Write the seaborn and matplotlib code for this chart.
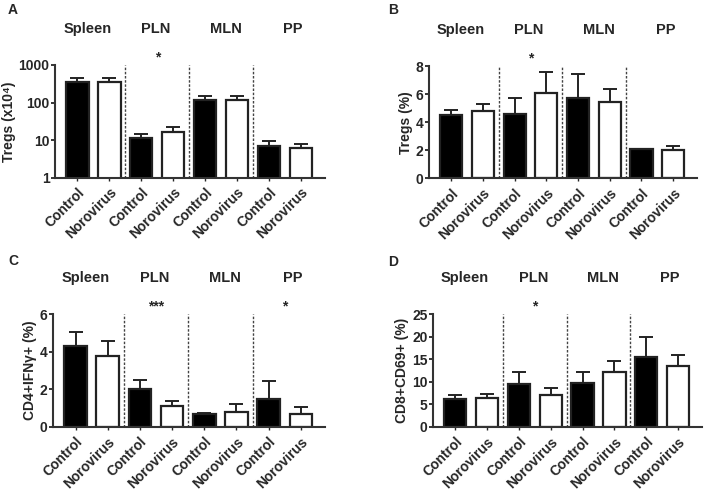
import matplotlib
matplotlib.use("Agg")
import matplotlib.pyplot as plt
import matplotlib.ticker as mticker
import seaborn as sns
import pandas as pd
import numpy as np

# data (bar = mean, err = top of the error bar)
tissues = ["Spleen", "PLN", "MLN", "PP"]
groups = ["Control", "Norovirus"]

tregs_num = [350, 345, 11.2, 16.1, 116, 119, 7.0, 6.2]
tregs_num_err = [440, 448, 14.3, 21.9, 149, 146, 9.5, 7.9]

tregs_pct = [4.51, 4.80, 4.58, 6.10, 5.70, 5.42, 2.07, 2.00]
tregs_pct_err = [4.87, 5.27, 5.75, 7.60, 7.41, 6.39, 2.12, 2.28]

cd4_ifng = [4.30, 3.75, 2.00, 1.09, 0.71, 0.80, 1.50, 0.71]
cd4_ifng_err = [5.05, 4.54, 2.50, 1.39, 0.74, 1.21, 2.43, 1.04]

cd8_cd69 = [6.1, 6.47, 9.56, 7.06, 9.63, 12.2, 15.4, 13.6]
cd8_cd69_err = [7.13, 7.35, 12.2, 8.6, 12.1, 14.5, 19.85, 15.9]

# significance marks: (tissue index, stars)
stars_a = [(1, "*")]
stars_b = [(1, "*")]
stars_c = [(1, "***"), (3, "*")]
stars_d = [(1, "*")]

sns.set_style("ticks")
plt.rcParams["font.family"] = ["Liberation Sans", "DejaVu Sans"]
plt.rcParams["font.weight"] = "bold"
plt.rcParams["axes.labelweight"] = "bold"

fig = plt.figure(figsize=(7.08, 4.91), dpi=100)

# axes boxes in pixels: left, right, top, bottom ; letter position
boxes = {
    "A": ([55, 325, 65, 177.7], (8, 10)),
    "B": ([429, 697, 66, 178.3], (388, 10)),
    "C": ([53, 325, 314, 427], (8, 261)),
    "D": ([433, 702, 314, 427], (388, 262)),
}


def make_ax(key):
    (l, r, t, b), (lx, ly) = boxes[key]
    fig.text(lx / 708, 1 - ly / 491, key, fontsize=10, fontweight="bold",
             ha="left", va="center")
    return fig.add_axes([l / 708, 1 - b / 491, (r - l) / 708, (b - t) / 491])


def panel(ax, vals, errs, ylabel, ylim, yticks, stars, log=False):
    keys = [t + " " + g for t in tissues for g in groups]
    df = pd.DataFrame({"cat": keys, "val": vals})
    colors = {k: ("black" if k.endswith("Control") else "white") for k in keys}
    sns.barplot(data=df, x="cat", y="val", hue="cat", palette=colors,
                legend=False, width=0.7, edgecolor="#222222", linewidth=1.6,
                ax=ax, errorbar=None)
    if log:
        ax.set_yscale("log")
    up = np.array(errs) - np.array(vals)
    ax.errorbar(np.arange(len(vals)), vals, yerr=[np.zeros(len(vals)), up],
                fmt="none", ecolor="#222222", elinewidth=1.4, capsize=5,
                capthick=1.4, zorder=1)
    ax.set_xlim(-0.7, 7.75)
    ax.set_ylim(*ylim)
    ax.set_yticks(yticks)
    ax.yaxis.set_minor_locator(mticker.NullLocator())
    ax.yaxis.set_major_formatter(mticker.FixedFormatter([str(v) for v in yticks]))
    ax.set_xticks(range(8))
    ax.set_xticklabels([g for t in tissues for g in groups], rotation=45,
                       ha="right", rotation_mode="anchor", fontsize=10,
                       fontweight="bold")
    ax.tick_params(axis="y", labelsize=10, length=3, width=1.3, pad=1)
    ax.tick_params(axis="x", length=2.5, width=1.0, pad=3)
    ax.set_xlabel("")
    ax.set_ylabel(ylabel, fontsize=10, fontweight="bold", labelpad=2)
    for s in ["top", "right"]:
        ax.spines[s].set_visible(False)
    for s in ["left", "bottom"]:
        ax.spines[s].set_linewidth(1.5)
        ax.spines[s].set_color("#333333")
    for xv in [1.5, 3.5, 5.5]:
        ax.axvline(xv, color="#444444", lw=1.0, ls=(0, (1.8, 1.2)), zorder=0)
    label_x = [0.31, 2.45, 4.65, 6.75]
    for xv, name in zip(label_x, tissues):
        ax.text(xv, 1.32, name, transform=ax.get_xaxis_transform(),
                ha="center", va="center", fontsize=10.5, fontweight="bold")
    for ti, s in stars:
        ax.text(2 * ti + 0.5, 1.07, s, transform=ax.get_xaxis_transform(),
                ha="center", va="center", fontsize=10, fontweight="bold")


ax = make_ax("A")
panel(ax, tregs_num, tregs_num_err, "Tregs (x10⁴)", (1, 1000),
      [1, 10, 100, 1000], stars_a, log=True)
ax = make_ax("B")
panel(ax, tregs_pct, tregs_pct_err, "Tregs (%)", (0, 8), [0, 2, 4, 6, 8],
      stars_b)
ax = make_ax("C")
panel(ax, cd4_ifng, cd4_ifng_err, "CD4+IFNγ+ (%)", (0, 6), [0, 2, 4, 6],
      stars_c)
ax = make_ax("D")
panel(ax, cd8_cd69, cd8_cd69_err, "CD8+CD69+ (%)", (0, 25),
      [0, 5, 10, 15, 20, 25], stars_d)

fig.savefig("out.png", dpi=100)
